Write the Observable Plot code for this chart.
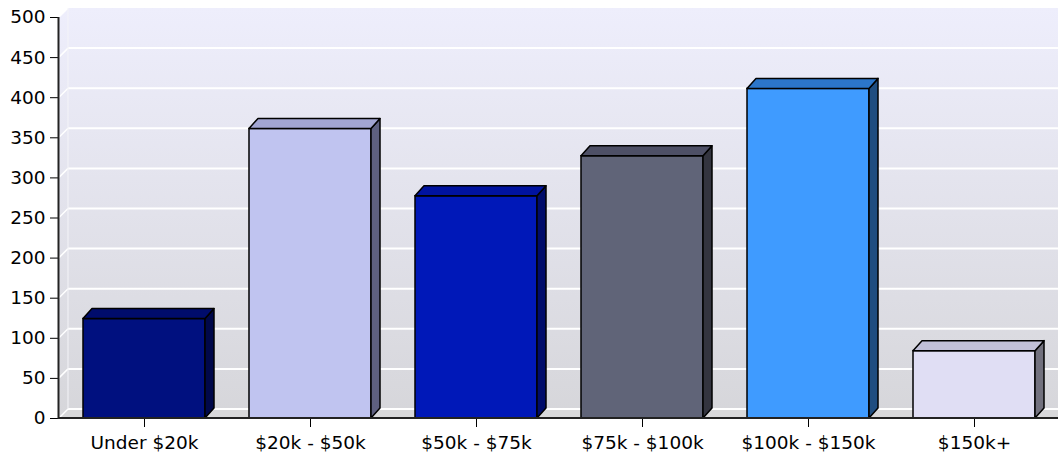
<!DOCTYPE html>
<html>
<head>
<meta charset="utf-8">
<script src="https://cdn.jsdelivr.net/npm/d3@7"></script>
<script src="https://cdn.jsdelivr.net/npm/@observablehq/plot@0.6"></script>
<style>
  html, body { margin: 0; padding: 0; background: #ffffff; }
  #chart { width: 1058px; height: 453px; }
</style>
</head>
<body>
<div id="chart"></div>
<script>
// ---- data ----
const categories = ["Under $20k", "$20k - $50k", "$50k - $75k", "$75k - $100k", "$100k - $150k", "$150k+"];
const values = [124, 361, 277, 327, 411, 84];
const frontColors = ["#00107F", "#C0C4F0", "#0018B8", "#606478", "#3F9BFF", "#E0DEF4"];
const topColors   = ["#000C6C", "#A2A5D2", "#0013A0", "#4E5066", "#2C76CA", "#C1C0D8"];
const sideColors  = ["#00084A", "#5E6080", "#000C6A", "#33343F", "#1F4D80", "#72717E"];
const yTicks = [0, 50, 100, 150, 200, 250, 300, 350, 400, 450, 500];

const data = categories.map((c, i) => ({
  category: c, value: values[i], front: frontColors[i], top: topColors[i], side: sideColors[i]
}));

const WALL_DX = 9, WALL_DY = -9;   // depth of the chart walls (px)
const BAR_DX = 9, BAR_DY = -10;    // depth of the bars (px)

// background walls, floor and grid (positions from scales / dimensions)
function walls(index, scales, vals, dim) {
  const y = scales.y;
  const L = dim.marginLeft, R = dim.width - dim.marginRight;
  const y0 = y(yTicks[0]), yT = y(yTicks[yTicks.length - 1]);
  const g = d3.create("svg:g");
  const defs = g.append("defs");
  const grad = defs.append("linearGradient")
    .attr("id", "wallGrad").attr("gradientUnits", "userSpaceOnUse")
    .attr("x1", 0).attr("y1", yT + WALL_DY).attr("x2", 0).attr("y2", y0);
  grad.append("stop").attr("offset", 0).attr("stop-color", "#EEEEFC");
  grad.append("stop").attr("offset", 1).attr("stop-color", "#D6D6DA");
  // back wall
  g.append("rect")
    .attr("x", L + WALL_DX).attr("y", yT + WALL_DY)
    .attr("width", R - L - WALL_DX).attr("height", y0 - yT)
    .attr("fill", "url(#wallGrad)");
  // side wall
  g.append("path")
    .attr("d", `M${L},${yT}L${L + WALL_DX},${yT + WALL_DY}L${L + WALL_DX},${y0 + WALL_DY}L${L},${y0}Z`)
    .attr("fill", "url(#wallGrad)");
  // floor
  g.append("path")
    .attr("d", `M${L},${y0}L${L + WALL_DX},${y0 + WALL_DY}L${R},${y0 + WALL_DY}L${R},${y0}Z`)
    .attr("fill", "#D8D8DA");
  // grid lines
  for (const t of yTicks) {
    const yy = y(t);
    if (t < yTicks[yTicks.length - 1]) {
      g.append("line")
        .attr("x1", L + WALL_DX).attr("x2", R)
        .attr("y1", yy + WALL_DY).attr("y2", yy + WALL_DY)
        .attr("stroke", "#FFFFFF").attr("stroke-width", 2);
    }
    g.append("line")
      .attr("x1", L).attr("y1", yy)
      .attr("x2", L + WALL_DX).attr("y2", yy + WALL_DY)
      .attr("stroke", "#FFFFFF").attr("stroke-width", 1.5);
  }
  // wall edge
  g.append("line")
    .attr("x1", L + WALL_DX).attr("x2", L + WALL_DX)
    .attr("y1", yT + WALL_DY).attr("y2", y0 + WALL_DY)
    .attr("stroke", "#F4F4F8").attr("stroke-width", 1);
  return g.node();
}

// 3D top and side faces of the bars
function barFaces(index, scales, vals, dim) {
  const x = scales.x, y = scales.y;
  const bw = typeof x.bandwidth === "function" ? x.bandwidth() : x.bandwidth;
  const g = d3.create("svg:g")
    .attr("stroke", "#000").attr("stroke-width", 1.5).attr("stroke-linejoin", "round");
  for (const d of data) {
    const x0 = x(d.category), x1 = x0 + bw;
    const yv = y(d.value), y0 = y(0);
    // side face
    g.append("path")
      .attr("d", `M${x1},${yv}L${x1 + BAR_DX},${yv + BAR_DY}L${x1 + BAR_DX},${y0 + BAR_DY}L${x1},${y0}Z`)
      .attr("fill", d.side);
    // top face
    g.append("path")
      .attr("d", `M${x0},${yv}L${x0 + BAR_DX},${yv + BAR_DY}L${x1 + BAR_DX},${yv + BAR_DY}L${x1},${yv}Z`)
      .attr("fill", d.top);
  }
  return g.node();
}

// axis lines
function axisLines(index, scales, vals, dim) {
  const y = scales.y;
  const L = dim.marginLeft, R = dim.width - dim.marginRight;
  const y0 = y(yTicks[0]), yT = y(yTicks[yTicks.length - 1]);
  const g = d3.create("svg:g").attr("stroke", "#222").attr("stroke-width", 2);
  g.append("line").attr("x1", L - 0.5).attr("x2", L - 0.5).attr("y1", yT).attr("y2", y0 + 1);
  g.append("line").attr("x1", L - 1).attr("x2", R).attr("y1", y0).attr("y2", y0);
  return g.node();
}

const chart = Plot.plot({
  width: 1058,
  height: 453,
  marginLeft: 59,
  marginRight: 0,
  marginTop: 17,
  marginBottom: 35,
  style: { fontFamily: "DejaVu Sans, Verdana, sans-serif", fontSize: "18.5px", color: "#000", background: "#ffffff" },
  x: { domain: categories, paddingInner: 0.267, paddingOuter: 0.1335, label: null, tickSize: 9, tickPadding: 8 },
  y: { domain: [0, 500], ticks: yTicks, label: null, tickSize: 9, tickPadding: 5 },
  marks: [
    walls,
    Plot.barY(data, { x: "category", y: "value", fill: "front", stroke: "#000", strokeWidth: 1.5, inset: 0 }),
    barFaces,
    axisLines
  ]
});
document.getElementById("chart").appendChild(chart);
</script>
</body>
</html>
